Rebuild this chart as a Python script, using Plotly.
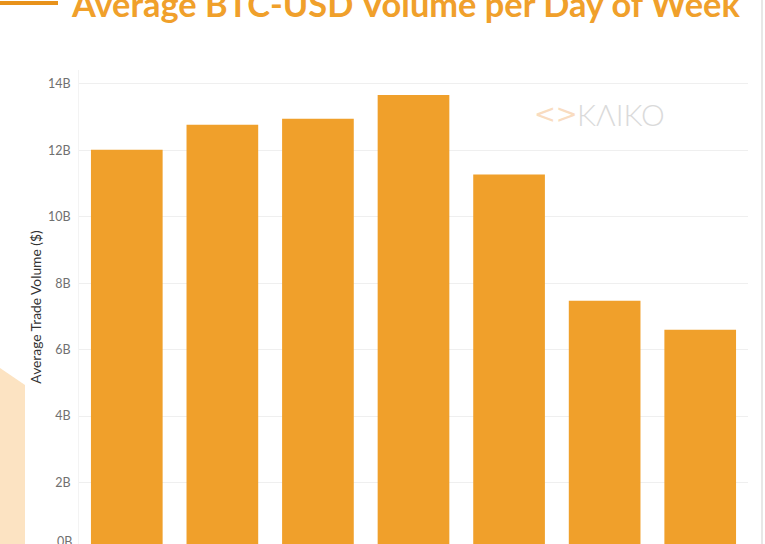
import plotly.graph_objects as go

# ---- data ----
days = ["Monday", "Tuesday", "Wednesday", "Thursday", "Friday", "Saturday", "Sunday"]
avg_volume_billion = [12.02, 12.77, 12.95, 13.67, 11.27, 7.47, 6.60]
tick_values = [0, 2, 4, 6, 8, 10, 12, 14]
tick_labels = ["0B", "2B", "4B", "6B", "8B", "10B", "12B", "14B"]
title_text = "Average BTC-USD Volume per Day of Week"
y_title = "Average Trade Volume ($)"

BAR = "#F0A02B"
W, H = 765, 544
ML, MR, MT, MB = 79, 17, 70, 0
PW, PH = W - ML - MR, H - MT - MB

def px_x(px):
    return (px - ML) / PW

def px_y(py):
    return 1 - (py - MT) / PH

fig = go.Figure(
    go.Bar(
        x=days,
        y=avg_volume_billion,
        marker=dict(color=BAR, line=dict(width=0)),
        hoverinfo="x+y",
    )
)

fig.update_layout(
    width=W,
    height=H,
    margin=dict(l=ML, r=MR, t=MT, b=MB, autoexpand=False),
    paper_bgcolor="white",
    plot_bgcolor="white",
    bargap=0.25,
    showlegend=False,
    font=dict(family="Lato, Open Sans, sans-serif", color="#666"),
)

fig.update_xaxes(
    showticklabels=False,
    showgrid=False,
    showline=False,
    zeroline=False,
)

fig.update_yaxes(
    range=[0.145, 14.42],
    tickvals=tick_values[1:],
    ticktext=tick_labels[1:],
    tickfont=dict(size=12.5, color="#707070"),
    showgrid=True,
    gridcolor="#efefef",
    gridwidth=1,
    zeroline=False,
    showline=True,
    linecolor="#f3f3f3",
    ticks="",
    ticklabelstandoff=5,
    title=dict(text=y_title, font=dict(size=13.8, color="#333"), standoff=3),
)

# bottom "0B" label, nudged up to sit at the bottom edge as in the reference
fig.add_annotation(
    x=px_x(74), xref="paper", xanchor="right",
    y=px_y(541.5), yref="paper", yanchor="middle",
    text=tick_labels[0], showarrow=False,
    font=dict(size=12.5, color="#707070"),
)

# Title (clipped at the top of the page)
fig.add_annotation(
    x=px_x(69), xref="paper", xanchor="left",
    y=px_y(3), yref="paper", yanchor="middle",
    text="<b>" + title_text + "</b>", showarrow=False,
    font=dict(size=34.4, color="#F0A02B", family="Lato, sans-serif"),
)

# Orange rule at top-left
fig.add_shape(
    type="line", xref="paper", yref="paper",
    x0=px_x(0), x1=px_x(58), y0=px_y(3), y1=px_y(3),
    line=dict(color="#E8921A", width=4),
)

# Peach decoration bottom-left
fig.add_shape(
    type="path", xref="paper", yref="paper",
    path=f"M {px_x(0)} {px_y(368)} L {px_x(25)} {px_y(385)} L {px_x(25)} {px_y(545)} L {px_x(0)} {px_y(545)} Z",
    fillcolor="#FCE3C2", line=dict(width=0), layer="below",
)

# Right grey border line
fig.add_shape(
    type="line", xref="paper", yref="paper",
    x0=px_x(762), x1=px_x(762), y0=px_y(0), y1=px_y(544),
    line=dict(color="#cfcfcf", width=1),
)

# KAIKO watermark
fig.add_annotation(
    x=px_x(556), xref="paper", xanchor="center",
    y=px_y(114), yref="paper", yanchor="middle",
    text="&lt;&gt;", showarrow=False,
    font=dict(size=26, color="#F9DCC0", family="DejaVu Sans"),
)
fig.add_annotation(
    x=px_x(575), xref="paper", xanchor="left",
    y=px_y(114), yref="paper", yanchor="middle",
    text="KΛIKO", showarrow=False,
    font=dict(size=30, color="#DADADA", family="Lato, sans-serif", weight=300),
)

fig.write_html(
    "out.html",
    config={"displayModeBar": False},
    post_script="document.body.style.margin='0px';document.body.style.overflow='hidden';",
)
